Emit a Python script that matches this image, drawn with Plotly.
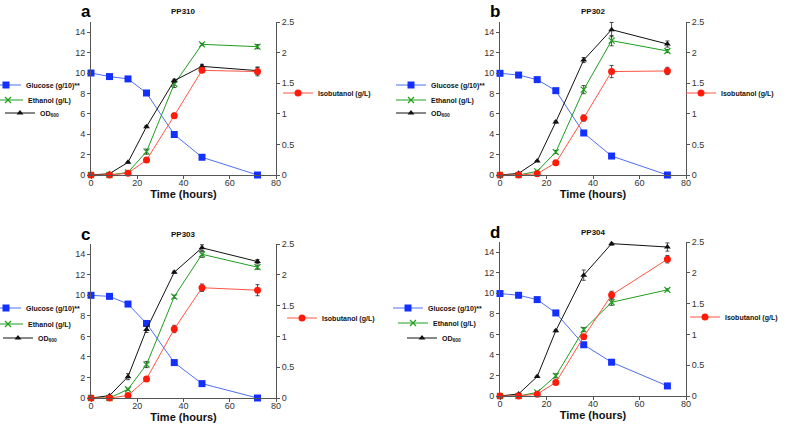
import plotly.graph_objects as go

time_h = [0, 8, 16, 24, 36, 48, 72]

panel_names = ["PP310", "PP302", "PP303", "PP304"]
panel_letters = ["a", "b", "c", "d"]
series_names = ["Glucose (g/10)**", "Ethanol (g/L)", "OD<sub>600</sub>", "Isobutanol (g/L)"]

# Glucose (g/10), left axis
glucose = [
    [10.0, 9.65, 9.42, 8.04, 3.97, 1.74, 0.0],
    [9.97, 9.8, 9.35, 8.27, 4.12, 1.86, 0.0],
    [10.0, 9.9, 9.15, 7.26, 3.45, 1.4, 0.0],
    [9.98, 9.81, 9.39, 8.09, 4.99, 3.29, 0.98],
]
glucose_err = [
    [0, 0, 0, 0, 0, 0, 0],
    [0, 0, 0, 0, 0, 0, 0],
    [0, 0, 0, 0, 0, 0, 0],
    [0, 0, 0, 0, 0, 0, 0],
]
# Ethanol (g/L), left axis
ethanol = [
    [0, 0, 0.26, 2.29, 8.92, 12.81, 12.58],
    [0, 0, 0.36, 2.25, 8.37, 13.17, 12.16],
    [0, 0, 0.85, 3.26, 9.87, 14.0, 12.74],
    [0, 0, 0.36, 1.96, 6.46, 9.13, 10.34],
]
ethanol_err = [
    [0, 0, 0.1, 0.25, 0.35, 0.1, 0.2],
    [0, 0, 0.1, 0.15, 0.4, 0.5, 0.15],
    [0, 0, 0.1, 0.3, 0.15, 0.3, 0.2],
    [0, 0, 0.1, 0.2, 0.2, 0.3, 0.1],
]
# OD600, left axis
od600 = [
    [0, 0.13, 1.24, 4.74, 9.25, 10.65, 10.23],
    [0, 0.16, 1.37, 5.2, 11.27, 14.25, 12.84],
    [0, 0.23, 2.08, 6.68, 12.25, 14.63, 13.29],
    [0, 0.2, 1.89, 6.36, 11.77, 14.84, 14.51],
]
od600_err = [
    [0, 0, 0.05, 0.1, 0.15, 0.2, 0.35],
    [0, 0, 0.05, 0.1, 0.25, 0.7, 0.3],
    [0, 0, 0.3, 0.3, 0.1, 0.3, 0.2],
    [0, 0, 0.05, 0.1, 0.5, 0.15, 0.4],
]
# Isobutanol (g/L), right axis
isobutanol = [
    [0, 0, 0.03, 0.245, 0.97, 1.71, 1.69],
    [0, 0, 0.02, 0.2, 0.93, 1.69, 1.7],
    [0, 0, 0.04, 0.31, 1.12, 1.79, 1.75],
    [0, 0, 0.03, 0.22, 0.96, 1.64, 2.22],
]
isobutanol_err = [
    [0, 0, 0.01, 0.02, 0.04, 0.03, 0.07],
    [0, 0, 0.01, 0.02, 0.05, 0.1, 0.06],
    [0, 0, 0.01, 0.03, 0.06, 0.06, 0.09],
    [0, 0, 0.01, 0.02, 0.03, 0.06, 0.06],
]

left_ticks = [0, 2, 4, 6, 8, 10, 12, 14]
right_ticks = [0, 0.5, 1, 1.5, 2, 2.5]
right_ticklabels = ["0", "0.5", "1", "1.5", "2", "2.5"]
x_ticks = [0, 20, 40, 60, 80]

W, H = 785, 424

def px(x):
    return x / W

def py(y):
    return 1 - y / H

# plot boxes in window pixels: left, right, top, bottom
boxes = [(91, 276, 22, 175), (500, 686, 22, 175), (91, 276, 244, 398), (500, 686, 242, 396)]
# legend entry positions (text start x, text centre y) per panel: glucose, ethanol, OD, isobutanol
legend_pos = [
    [(29, 85), (31, 100), (43, 113), (321, 93)],
    [(434, 85), (434, 100), (434, 113), (724, 93)],
    [(29, 308), (31, 324), (41, 338), (325, 318)],
    [(431, 308), (436, 323), (445, 338), (728, 317)],
]
TEXT_OFFSET = 43

C_GLU_M, C_GLU_L = "#1430ff", "#4f6ef5"
C_ETH = "#1e9e1e"
C_OD = "#111111"
C_ISO_M, C_ISO_L = "#ff1a0a", "#ff5544"
FONT = "Liberation Sans, Arial, sans-serif"

fig = go.Figure()
layout = dict(
    width=W, height=H, margin=dict(l=0, r=0, t=0, b=0, autoexpand=False),
    paper_bgcolor="white", plot_bgcolor="white", showlegend=True,
    font=dict(family=FONT, color="#333333", size=9),
)
annotations = []

def err(arr):
    return dict(type="data", array=arr, visible=True, color="#222222", thickness=0.8, width=2)

leg_count = 0
for i in range(4):
    l, r, t, b = boxes[i]
    xd = [px(l), px(r)]
    yd = [py(b), py(t)]
    xa = f"x{i+1}"
    yl = f"y{2*i+1}"
    yr = f"y{2*i+2}"
    axis_common = dict(showgrid=False, zeroline=False, showline=True, linecolor="#555555",
                       linewidth=1, ticks="outside", ticklen=3, tickcolor="#555555", automargin=False,
                       tickfont=dict(size=9, color="#333333", family=FONT))
    layout["xaxis" + ("" if i == 0 else str(i + 1))] = dict(
        domain=xd, anchor=yl, range=[0, 80], tickvals=x_ticks, ticklabelstandoff=-4,
        title=dict(text="<b>Time (hours)</b>", font=dict(size=11, color="#111111", family=FONT), standoff=1),
        **axis_common)
    layout["yaxis" + ("" if i == 0 else str(2 * i + 1))] = dict(
        domain=yd, anchor=xa, range=[0, 15], tickvals=left_ticks, side="left", **axis_common)
    layout["yaxis" + str(2 * i + 2)] = dict(
        domain=yd, anchor=xa, overlaying=yl, range=[0, 2.5], side="right",
        tickvals=right_ticks, ticktext=right_ticklabels, **axis_common)

    specs = [
        (glucose[i], glucose_err[i], yl, dict(color=C_GLU_L, width=1),
         dict(symbol="square", size=7, color=C_GLU_M)),
        (ethanol[i], ethanol_err[i], yl, dict(color=C_ETH, width=1),
         dict(symbol="x-thin", size=6, color=C_ETH, line=dict(color=C_ETH, width=1.2))),
        (od600[i], od600_err[i], yl, dict(color=C_OD, width=1),
         dict(symbol="triangle-up", size=6, color=C_OD)),
        (isobutanol[i], isobutanol_err[i], yr, dict(color=C_ISO_L, width=1),
         dict(symbol="circle", size=7, color=C_ISO_M)),
    ]
    for k, (yv, ye, yax, ln, mk) in enumerate(specs):
        leg_count += 1
        lg = "legend" if leg_count == 1 else f"legend{leg_count}"
        fig.add_trace(go.Scatter(x=time_h, y=yv, mode="lines+markers", name="<b>" + series_names[k] + "</b>",
                                 xaxis=xa, yaxis=yax, legend=lg, cliponaxis=False,
                                 line=ln, marker=mk, error_y=err(ye)))
        tx, ty = legend_pos[i][k]
        layout[lg] = dict(x=px(tx - TEXT_OFFSET), y=py(ty), xanchor="left", yanchor="middle",
                          bgcolor="rgba(0,0,0,0)", borderwidth=0,
                          font=dict(size=7, color="#111111", family=FONT), itemwidth=30)

    annotations.append(dict(text="<b>" + panel_names[i] + "</b>", xref="paper", yref="paper",
                            x=px((l + r) / 2), y=py(t - 10), showarrow=False,
                            font=dict(size=8, color="#111111", family=FONT), xanchor="center", yanchor="middle"))
    annotations.append(dict(text="<b>" + panel_letters[i] + "</b>", xref="paper", yref="paper",
                            x=px(l - 12), y=py(t - 10), showarrow=False,
                            font=dict(size=17, color="#000000", family=FONT), xanchor="left", yanchor="middle"))

layout["annotations"] = annotations
fig.update_layout(**layout)
fig.write_html("out.html", config={"displayModeBar": False},
               post_script="document.body.style.margin='0px';")
